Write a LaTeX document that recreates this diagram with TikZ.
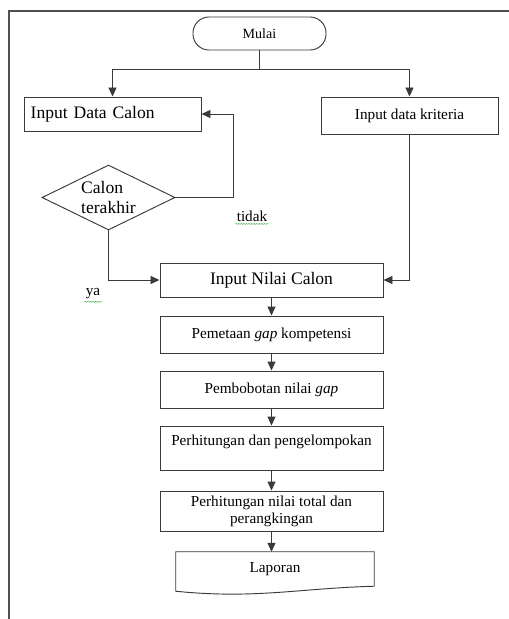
\documentclass[tikz,border=0pt]{standalone}
\usepackage{fontspec}
\setmainfont{Liberation Serif}
\usepackage{xcolor}
\usetikzlibrary{positioning,arrows.meta,shapes.geometric,decorations.pathmorphing}
\definecolor{alurline}{HTML}{3A3A3A}
\definecolor{alurframe}{HTML}{505050}
\definecolor{alurspell}{HTML}{3CB043}

\begin{document}
\begin{tikzpicture}[
  x=0.03cm,y=-0.03cm,
  proc/.style={draw=alurline,line width=0.8pt,fill=white,align=center,font=\fontsize{13}{14.5}\selectfont,minimum width=6.69cm},
  arr/.style={draw=alurline,line width=0.8pt,-{Triangle[length=0.27cm,width=0.24cm]}},
  lin/.style={draw=alurline,line width=0.8pt},
  wavy/.style={draw=alurspell,line width=0.4pt,decorate,decoration={snake,amplitude=0.4pt,segment length=2.2pt}}
]
\useasboundingbox (0,0) rectangle (509,619);
\draw[draw=alurframe,line width=1pt] (9,619) -- (9,11) -- (512,11);
\node[draw=alurline,line width=0.8pt,rounded corners=0.48cm,minimum width=3.99cm,minimum height=0.99cm,font=\fontsize{12}{14}\selectfont] (mulai) at (259.5,33.5) {Mulai};
\node[draw=alurline,line width=0.8pt,minimum width=5.31cm,minimum height=1.02cm,text width=4.91cm,inner xsep=0.2cm,align=left,font=\fontsize{15}{17}\selectfont] (calon) at (112.5,114) {Input Data Calon};
\node[draw=alurline,line width=0.8pt,minimum width=5.31cm,minimum height=1.11cm,font=\fontsize{13}{15}\selectfont] (kriteria) at (409.5,115.5) {Input data kriteria};
\node[draw=alurline,line width=0.8pt,diamond,aspect=2,inner sep=0pt,minimum width=3.99cm,minimum height=1.95cm,align=left,font=\fontsize{15}{17}\selectfont] (akhir) at (108.5,197.5) {Calon\\terakhir};
\node[font=\fontsize{13}{15}\selectfont,inner sep=1pt] (tidak) at (252,216) {tidak};
\node[font=\fontsize{13}{15}\selectfont,inner sep=1pt] (ya) at (93,294) {ya};
\node[proc,minimum height=1.02cm,font=\fontsize{15}{17}\selectfont] (nilai) at (271.5,280) {Input Nilai Calon};
\node[proc,minimum height=1.11cm] (petagap) at (271.5,334.5) {Pemetaan \textit{gap} kompetensi};
\node[proc,minimum height=1.11cm] (bobot) at (271.5,389.5) {Pembobotan nilai \textit{gap}};
\node[proc,minimum height=1.32cm,text depth=0.45cm] (kelompok) at (271.5,448) {Perhitungan dan pengelompokan};
\node[proc,minimum height=1.2cm] (total) at (271.5,511) {Perhitungan nilai total dan\\perangkingan};
\node[minimum width=5.94cm,minimum height=1.02cm,font=\fontsize{13}{15}\selectfont] (laporan) at (275,569) {Laporan};
\draw[lin] (laporan.north west) -- (laporan.north east) -- (laporan.south east)
  .. controls +(-75,2) and +(80,8) .. ([yshift=-0.15cm]laporan.south west) -- cycle;
\draw[wavy] ([yshift=-1pt]tidak.south west) -- ([yshift=-1pt]tidak.south east);
\draw[wavy] ([yshift=-1pt]ya.south west) -- ([yshift=-1pt]ya.south east);
\coordinate (cabang) at (259.5,69);
\coordinate (balik) at (233,197.5);
\draw[lin] (mulai.south) -- (cabang);
\draw[arr] (cabang) -| (calon.north);
\draw[arr] (cabang) -| (kriteria.north);
\draw[arr] (akhir.east) -- (balik) |- (calon.east);
\draw[arr] (akhir.south) |- (nilai.west);
\draw[arr] (kriteria.south) |- (nilai.east);
\draw[arr] (nilai) -- (petagap);
\draw[arr] (petagap) -- (bobot);
\draw[arr] (bobot) -- (kelompok);
\draw[arr] (kelompok) -- (total);
\draw[arr] (total) -- (total.south |- laporan.north);
\end{tikzpicture}
\end{document}
